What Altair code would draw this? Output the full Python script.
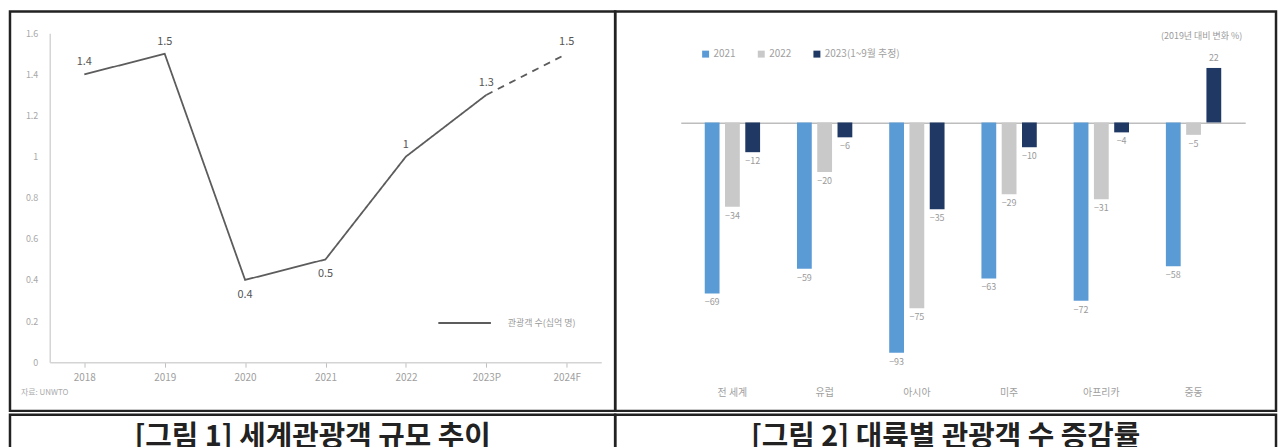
import altair as alt
import pandas as pd

# ---------------- data ----------------
years = ["2018", "2019", "2020", "2021", "2022", "2023P", "2024F"]
tourists = [1.4, 1.5, 0.4, 0.5, 1.0, 1.3, 1.5]
line_series = "관광객 수(십억 명)"
source_note = "자료: UNWTO"

regions = ["전 세계", "유럽", "아시아", "미주", "아프리카", "중동"]
bar_series = ["2021", "2022", "2023(1~9월 추정)"]
chg_2021 = [-69, -59, -93, -63, -72, -58]
chg_2022 = [-34, -20, -75, -29, -31, -5]
chg_2023 = [-12, -6, -35, -10, -4, 22]
bar_colors = ["#5B9BD5", "#C9C9C9", "#1F3864"]
unit_note = "(2019년 대비 변화 %)"

caption1 = "[그림 1] 세계관광객 규모 추이"
caption2 = "[그림 2] 대륙별 관광객 수 증감률"

# ---------------- layout ----------------
W1, W2, H = 609, 665, 402
CAP_H = 40
FONT = "Noto Sans CJK KR"

# ---------------- left: line chart ----------------
n = len(years)
line_rows = []
for i in range(n - 1):
    line_rows.append({"year": years[i], "value": tourists[i], "seg": "actual", "series": line_series})
for i in range(n - 2, n):
    line_rows.append({"year": years[i], "value": tourists[i], "seg": "forecast", "series": line_series})
df_line = pd.DataFrame(line_rows)
df_pts = pd.DataFrame({"year": years, "value": tourists})

x_line = alt.X(
    "year:N", sort=years,
    scale=alt.Scale(type="point", range=[40, 595], padding=0.43),
    axis=alt.Axis(orient="bottom", offset=-(H - 353), title=None, labelAngle=0,
                  domainColor="#d4d4d4", domainWidth=1.5, tickColor="#c0c0c0", tickSize=5,
                  labelColor="#a0a0a0", labelFontSize=10, labelPadding=5, grid=False),
)
y_line = alt.Y(
    "value:Q",
    scale=alt.Scale(domain=[0, 1.6], range=[353, 22], nice=False, zero=False),
    axis=alt.Axis(values=[0, 0.2, 0.4, 0.6, 0.8, 1, 1.2, 1.4, 1.6], format="~g",
                  offset=-40, title=None, grid=False, ticks=False,
                  domainColor="#d4d4d4", domainWidth=1.5,
                  labelColor="#a8a8a8", labelFontSize=9, labelPadding=12),
)

line = alt.Chart(df_line).mark_line(strokeWidth=1.8).encode(
    x=x_line,
    y=y_line,
    color=alt.Color("series:N", scale=alt.Scale(range=["#5c5c5c"]),
                    legend=alt.Legend(orient="none", legendX=430, legendY=286, title=None,
                                      symbolType="stroke", symbolSize=2800, symbolStrokeWidth=2,
                                      labelFontSize=9, labelColor="#999999", labelOffset=16,
                                      padding=0)),
    strokeDash=alt.StrokeDash("seg:N", scale=alt.Scale(domain=["actual", "forecast"],
                                                        range=[[1, 0], [7, 6]]), legend=None),
    detail="seg:N",
)

lbl_up = alt.Chart(df_pts).transform_filter("datum.value >= 0.6").mark_text(
    dy=-12, fontSize=11, color="#555555").encode(
    x=alt.X("year:N", sort=years), y="value:Q",
    text=alt.Text("value:Q", format="~g"))
lbl_dn = alt.Chart(df_pts).transform_filter("datum.value < 0.6").mark_text(
    dy=15, fontSize=11, color="#555555").encode(
    x=alt.X("year:N", sort=years), y="value:Q",
    text=alt.Text("value:Q", format="~g"))

src = alt.Chart(pd.DataFrame({"t": [source_note]})).mark_text(
    align="left", fontSize=8, color="#aaaaaa").encode(
    x=alt.value(11), y=alt.value(384), text="t:N")

left = alt.layer(line, lbl_up, lbl_dn, src).properties(width=W1, height=H)

# ---------------- right: grouped bar chart ----------------
bar_rows = []
for vals, s in zip([chg_2021, chg_2022, chg_2023], bar_series):
    for r, v in zip(regions, vals):
        bar_rows.append({"region": r, "year": s, "value": v})
df_bar = pd.DataFrame(bar_rows)

x_scale = alt.Scale(range=[66, 634], paddingInner=0.4, paddingOuter=0.26)
xo_scale = alt.Scale(paddingInner=0.27, paddingOuter=0)
y_scale = alt.Scale(domain=[-110, 34], range=[386, 27], nice=False, zero=False)

bars = alt.Chart(df_bar).mark_bar().encode(
    x=alt.X("region:N", sort=regions, scale=x_scale,
            axis=alt.Axis(orient="bottom", offset=-24, title=None, labelAngle=0,
                          domain=False, ticks=False, labelPadding=1,
                          labelColor="#a0a0a0", labelFontSize=10)),
    xOffset=alt.XOffset("year:N", sort=bar_series, scale=xo_scale),
    y=alt.Y("value:Q", scale=y_scale,
            axis=alt.Axis(values=[-100, -80, -60, -40, -20, 0, 20], offset=-66, title=None,
                          grid=False, ticks=False, domainColor="#c8c8c8", domainWidth=1.5,
                          labelColor="#a8a8a8", labelFontSize=9, labelPadding=6)),
    color=alt.Color("year:N", sort=bar_series,
                    scale=alt.Scale(domain=bar_series, range=bar_colors),
                    legend=alt.Legend(orient="none", legendX=86, legendY=38, direction="horizontal",
                                      title=None, symbolType="square", symbolSize=49,
                                      labelFontSize=10, labelColor="#a0a0a0", labelOffset=3,
                                      columnPadding=20, padding=0)),
)

neg_lbl = alt.Chart(df_bar).transform_filter("datum.value < 0").mark_text(
    baseline="top", dy=5, fontSize=9, color="#9a9a9a").encode(
    x=alt.X("region:N", sort=regions,
            axis=alt.Axis(orient="top", offset=-112, title=None, labels=False, ticks=False,
                          domainColor="#bdbdbd", domainWidth=1.5, grid=False)),
    xOffset=alt.XOffset("year:N", sort=bar_series),
    y=alt.Y("value:Q", axis=None),
    text="value:Q")
pos_lbl = alt.Chart(df_bar).transform_filter("datum.value >= 0").mark_text(
    baseline="bottom", dy=-5, fontSize=9, color="#9a9a9a").encode(
    x=alt.X("region:N", sort=regions, axis=None),
    xOffset=alt.XOffset("year:N", sort=bar_series),
    y=alt.Y("value:Q", axis=None),
    text="value:Q")

note = alt.Chart(pd.DataFrame({"t": [unit_note]})).mark_text(
    align="right", fontSize=9, color="#9a9a9a").encode(
    x=alt.value(631), y=alt.value(25), text="t:N")

right = alt.layer(bars, neg_lbl, pos_lbl, note).resolve_axis(x="independent").properties(
    width=W2, height=H)

# ---------------- captions ----------------
cap_left = alt.Chart(pd.DataFrame({"c": [caption1]})).mark_text(
    fontSize=29, fontWeight="bold", color="#222222").encode(
    x=alt.value(W1 / 2), y=alt.value(22), text="c:N").properties(width=W1, height=CAP_H)
cap_right = alt.Chart(pd.DataFrame({"c": [caption2]})).mark_text(
    fontSize=29, fontWeight="bold", color="#222222").encode(
    x=alt.value(W2 / 2), y=alt.value(22), text="c:N").properties(width=W2, height=CAP_H)

top = alt.hconcat(left, right, spacing=0, bounds="flush").resolve_scale(
    color="independent", strokeDash="independent").resolve_legend(color="independent")
bottom = alt.hconcat(cap_left, cap_right, spacing=0, bounds="flush")

chart = alt.vconcat(top, bottom, spacing=0).resolve_scale(
    color="independent", strokeDash="independent").resolve_legend(
    color="independent").properties(padding=0).configure(font=FONT).configure_view(
    stroke="#222222", strokeWidth=2.5)

chart.save("out.html", embed_options={"renderer": "svg", "actions": False})
